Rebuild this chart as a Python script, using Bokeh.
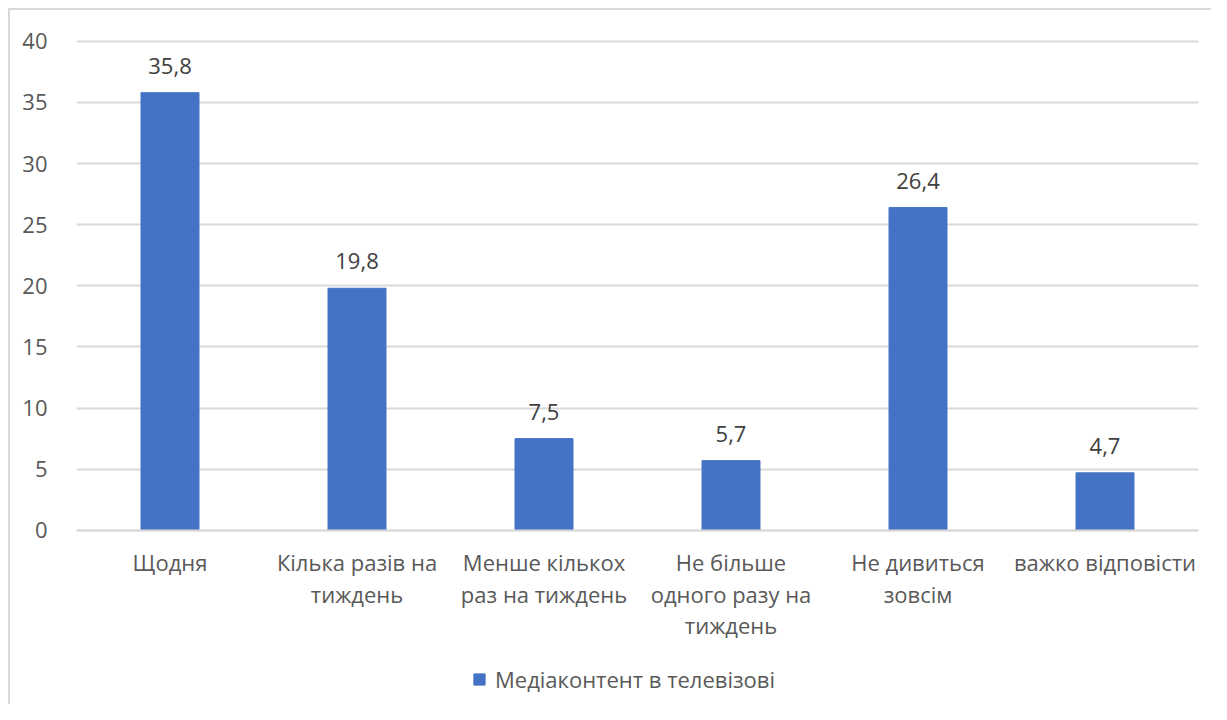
from bokeh.plotting import figure
from bokeh.models import ColumnDataSource, Range1d, FactorRange, Legend, LegendItem, LabelSet, FixedTicker
from bokeh.core.properties import value
from bokeh.embed import file_html
from bokeh.resources import INLINE

categories = ["Щодня", "Кілька разів на\nтиждень", "Менше кількох\nраз на тиждень",
              "Не більше\nодного разу на\nтиждень", "Не дивиться\nзовсім", "важко відповісти"]
values = [35.8, 19.8, 7.5, 5.7, 26.4, 4.7]
value_labels = ["35,8", "19,8", "7,5", "5,7", "26,4", "4,7"]
series_name = "Медіаконтент в телевізові"
y_ticks = [0, 5, 10, 15, 20, 25, 30, 35, 40]

FONT = "Open Sans"
GRAY = "#595959"
BLUE = "#4472C4"
FS = "22px"

src = ColumnDataSource(dict(cat=categories, val=values, lab=value_labels))

p = figure(width=1211, height=704, x_range=FactorRange(*categories),
           y_range=Range1d(-14.25, 40.15), output_backend="svg", toolbar_location=None,
           min_border_left=76, min_border_right=13, min_border_top=39, min_border_bottom=0)
p.styles = {
    "background": "linear-gradient(#d9d9d9,#d9d9d9) 8px 8px / calc(100% - 8px) 2px no-repeat, "
                  "linear-gradient(#d9d9d9,#d9d9d9) 8px 8px / 2px calc(100% - 8px) no-repeat, white"
}
p.outline_line_color = None
p.background_fill_color = "white"
p.border_fill_color = None

r = p.vbar(x="cat", top="val", width=0.31, color=BLUE, source=src)

labels = LabelSet(x="cat", y="val", text="lab", source=src, y_offset=19,
                  text_align="center", text_baseline="alphabetic",
                  text_font=value(FONT), text_font_size=FS, text_color="#404040")
p.add_layout(labels)

p.xgrid.grid_line_color = None
p.ygrid.grid_line_color = "#d9d9d9"
p.ygrid.grid_line_width = 2
p.yaxis.ticker = FixedTicker(ticks=y_ticks)
p.yaxis.axis_line_color = None
p.yaxis.major_tick_line_color = None
p.yaxis.minor_tick_line_color = None
p.yaxis.major_label_standoff = 23
p.yaxis.major_label_text_font = FONT
p.yaxis.major_label_text_font_size = FS
p.yaxis.major_label_text_color = GRAY

p.xaxis.fixed_location = 0
p.xaxis.axis_line_color = "#d9d9d9"
p.xaxis.axis_line_width = 2
p.xaxis.major_tick_line_color = None
p.xaxis.major_label_standoff = 11
p.xaxis.major_label_text_font = FONT
p.xaxis.major_label_text_font_size = FS
p.xaxis.major_label_text_color = GRAY
p.xaxis.major_label_text_line_height = 1.05

legend = Legend(items=[LegendItem(label=series_name, renderers=[r])],
                orientation="horizontal", location=(396, 10),
                label_text_font=FONT, label_text_font_size=FS, label_text_color=GRAY,
                glyph_width=14, glyph_height=14, border_line_color=None,
                background_fill_alpha=0, margin=0, padding=0, label_standoff=9)
p.add_layout(legend)

open("out.html", "w").write(file_html(p, INLINE))
